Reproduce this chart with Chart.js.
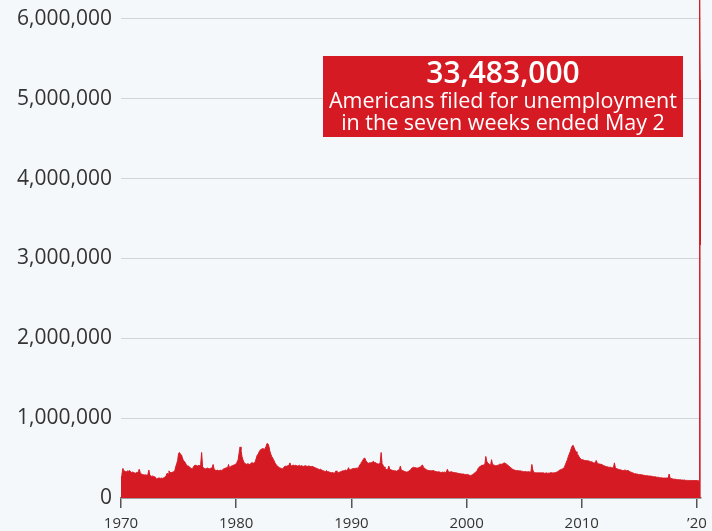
<!DOCTYPE html>
<html>
<head>
<meta charset="utf-8">
<script src="https://cdn.jsdelivr.net/npm/chart.js@4/dist/chart.umd.min.js"></script>
<style>
  html, body { margin: 0; padding: 0; background: #f5f8fb; }
  canvas { display: block; }
</style>
</head>
<body>
<canvas id="chart" width="712" height="531"></canvas>
<script>
// Initial jobless claims (thousands), one reading per month, Jan..Dec for each year
const claims1970s = [
  270, 300, 370, 340, 335, 330, 330, 340, 335, 345, 330, 320,
  325, 320, 315, 310, 320, 315, 330, 360, 320, 300, 295, 290,
  290, 285, 290, 285, 290, 350, 285, 280, 270, 275, 270, 265,
  260, 235, 245, 250, 250, 245, 250, 245, 250, 255, 265, 280,
  310, 300, 340, 315, 320, 320, 325, 330, 340, 390, 430, 470,
  560, 570, 545, 540, 500, 470, 460, 440, 420, 400, 400, 395,
  380, 370, 365, 380, 400, 410, 410, 405, 400, 410, 405, 420,
  570, 390, 375, 370, 365, 370, 375, 370, 365, 370, 375, 380,
  420, 360, 350, 345, 350, 345, 340, 345, 350, 345, 355, 365,
  370, 375, 380, 375, 420, 380, 390, 400, 405, 410, 415, 420
];
const claims1980s = [
  430, 450, 480, 560, 640, 600, 520, 480, 450, 430, 430, 420,
  430, 425, 420, 430, 440, 440, 435, 445, 460, 500, 540, 550,
  580, 600, 610, 615, 620, 610, 620, 640, 680, 680, 650, 590,
  550, 520, 500, 480, 450, 430, 410, 400, 390, 380, 375, 370,
  365, 370, 390, 400, 395, 400, 405, 410, 440, 400, 405, 410,
  410, 405, 410, 405, 400, 405, 410, 400, 405, 400, 395, 400,
  405, 400, 395, 400, 400, 395, 390, 395, 390, 385, 380, 375,
  370, 365, 360, 355, 360, 350, 345, 340, 335, 330, 345, 330,
  330, 325, 320, 315, 320, 315, 310, 320, 340, 310, 315, 320,
  325, 330, 335, 340, 340, 345, 350, 345, 350, 380, 355, 355
];
const claims1990s = [
  360, 365, 370, 370, 370, 375, 370, 380, 395, 420, 440, 455,
  475, 495, 500, 470, 450, 440, 435, 440, 440, 445, 450, 460,
  440, 445, 435, 430, 425, 430, 440, 570, 430, 410, 390, 370,
  360, 355, 360, 400, 360, 355, 350, 345, 345, 340, 340, 335,
  345, 350, 355, 400, 350, 345, 340, 335, 330, 325, 325, 330,
  340, 345, 360, 375, 380, 385, 380, 380, 375, 375, 380, 385,
  390, 400, 415, 385, 375, 365, 355, 350, 345, 345, 340, 340,
  340, 345, 340, 335, 330, 330, 325, 330, 325, 320, 320, 325,
  320, 325, 320, 325, 360, 330, 325, 325, 330, 325, 320, 320,
  315, 315, 310, 310, 305, 305, 305, 300, 300, 300, 295, 295
];
const claims2000s = [
  295, 295, 290, 285, 280, 285, 290, 300, 310, 320, 330, 340,
  370, 385, 395, 405, 410, 410, 415, 415, 520, 460, 440, 430,
  420, 410, 480, 420, 415, 410, 405, 405, 410, 410, 420, 425,
  420, 425, 430, 440, 440, 430, 420, 410, 400, 390, 380, 370,
  360, 355, 350, 345, 345, 345, 340, 340, 340, 335, 335, 330,
  330, 330, 330, 325, 330, 330, 325, 325, 420, 350, 320, 320,
  315, 315, 315, 315, 315, 315, 315, 315, 315, 310, 310, 315,
  310, 310, 310, 315, 315, 315, 310, 315, 315, 320, 325, 330,
  340, 350, 355, 360, 365, 370, 390, 420, 450, 480, 520, 550,
  580, 620, 650, 660, 630, 600, 580, 560, 540, 520, 500, 490
];
const claims2010s = [
  480, 480, 475, 470, 470, 470, 465, 465, 460, 455, 455, 450,
  440, 440, 435, 470, 440, 430, 425, 425, 420, 420, 410, 405,
  400, 395, 390, 390, 385, 385, 385, 380, 380, 380, 440, 380,
  370, 365, 360, 355, 355, 350, 345, 345, 340, 355, 340, 340,
  345, 340, 330, 325, 320, 315, 310, 305, 305, 300, 300, 295,
  295, 295, 290, 290, 285, 285, 280, 280, 280, 275, 275, 275,
  275, 270, 270, 265, 265, 265, 260, 260, 260, 255, 255, 255,
  250, 250, 250, 250, 250, 250, 250, 300, 250, 245, 240, 240,
  235, 235, 235, 230, 230, 230, 228, 228, 225, 225, 225, 225,
  220, 222, 220, 218, 220, 220, 218, 218, 218, 218, 218, 218
];

// 2020, week by week (week ending), thousands
const weeks2020 = [
  '2020-01-04', '2020-01-11', '2020-01-18', '2020-01-25', '2020-02-01', '2020-02-08',
  '2020-02-15', '2020-02-22', '2020-02-29', '2020-03-07', '2020-03-14', '2020-03-21',
  '2020-03-28', '2020-04-04', '2020-04-11', '2020-04-18', '2020-04-25', '2020-05-02'
];
const claims2020 = [
  216, 215, 220, 215, 205, 205, 215, 220, 217, 211, 282, 3307,
  6867, 6615, 5237, 4442, 3846, 3169
];

const xTickYears = [1970, 1980, 1990, 2000, 2010, 2020];
const xTickLabels = ['1970', '1980', '1990', '2000', '2010', '\u201920'];
const yTickValues = [0, 1000000, 2000000, 3000000, 4000000, 5000000, 6000000];

const calloutTotal = '33,483,000';
const calloutLines = ['Americans filed for unemployment', 'in the seven weeks ended May 2'];

const RED = '#d51a24';
const FONT = "'Open Sans', 'Noto Sans', sans-serif";

// Turn a date string into a fractional year for the linear x axis
function decimalYear(iso) {
  const [y, m, d] = iso.split('-').map(Number);
  const start = Date.UTC(y, 0, 1), end = Date.UTC(y + 1, 0, 1);
  return y + (Date.UTC(y, m - 1, d) - start) / (end - start);
}

const points = [];
[claims1970s, claims1980s, claims1990s, claims2000s, claims2010s].forEach((decade, di) => {
  decade.forEach((v, i) => points.push({ x: 1970 + di * 10 + i / 12, y: v * 1000 }));
});
weeks2020.forEach((w, i) => points.push({ x: decimalYear(w), y: claims2020[i] * 1000 }));

// Red callout box with the seven-week total
const calloutPlugin = {
  id: 'callout',
  afterDraw(chart) {
    const ctx = chart.ctx;
    ctx.save();
    ctx.fillStyle = RED;
    ctx.fillRect(323, 56, 360, 81);
    ctx.fillStyle = '#ffffff';
    ctx.textAlign = 'center';
    ctx.textBaseline = 'alphabetic';
    ctx.font = '600 30px ' + FONT;
    ctx.fillText(calloutTotal, 503, 83);
    ctx.font = '400 21.5px ' + FONT;
    ctx.fillText(calloutLines[0], 503, 108);
    ctx.fillText(calloutLines[1], 503, 130);
    ctx.restore();
  }
};

new Chart(document.getElementById('chart'), {
  type: 'line',
  data: {
    datasets: [{
      data: points,
      borderColor: RED,
      backgroundColor: RED,
      borderWidth: 1,
      fill: 'origin',
      pointRadius: 0,
      tension: 0
    }]
  },
  options: {
    responsive: false,
    animation: false,
    events: [],
    layout: { padding: { left: 0, right: 11, top: 0, bottom: 0 } },
    plugins: { legend: { display: false }, tooltip: { enabled: false } },
    scales: {
      x: {
        type: 'linear',
        min: 1970,
        max: 2020.35,
        z: 1,
        afterBuildTicks(scale) { scale.ticks = xTickYears.map(v => ({ value: v })); },
        afterFit(scale) { scale.height = 33; scale.paddingLeft = 0; scale.paddingRight = 0; },
        ticks: {
          autoSkip: false,
          maxRotation: 0,
          padding: 7,
          color: '#333333',
          font: { family: FONT, size: 15 },
          callback: (v, i) => xTickLabels[i]
        },
        grid: {
          drawOnChartArea: false,
          drawTicks: true,
          tickLength: 10,
          color: '#555555',
          lineWidth: 1.5
        },
        border: { display: true, color: '#666666', width: 1.5 }
      },
      y: {
        type: 'linear',
        min: 0,
        max: 6237500,
        afterBuildTicks(scale) { scale.ticks = yTickValues.map(v => ({ value: v })); },
        afterFit(scale) { scale.width = 121; scale.paddingTop = 0; scale.paddingBottom = 0; },
        ticks: {
          padding: 9,
          color: '#333333',
          font: { family: FONT, size: 21 },
          callback: v => v.toLocaleString('en-US')
        },
        grid: { drawTicks: false, color: '#d3d6d9', lineWidth: 1 },
        border: { display: false }
      }
    }
  },
  plugins: [calloutPlugin]
});
</script>
</body>
</html>
